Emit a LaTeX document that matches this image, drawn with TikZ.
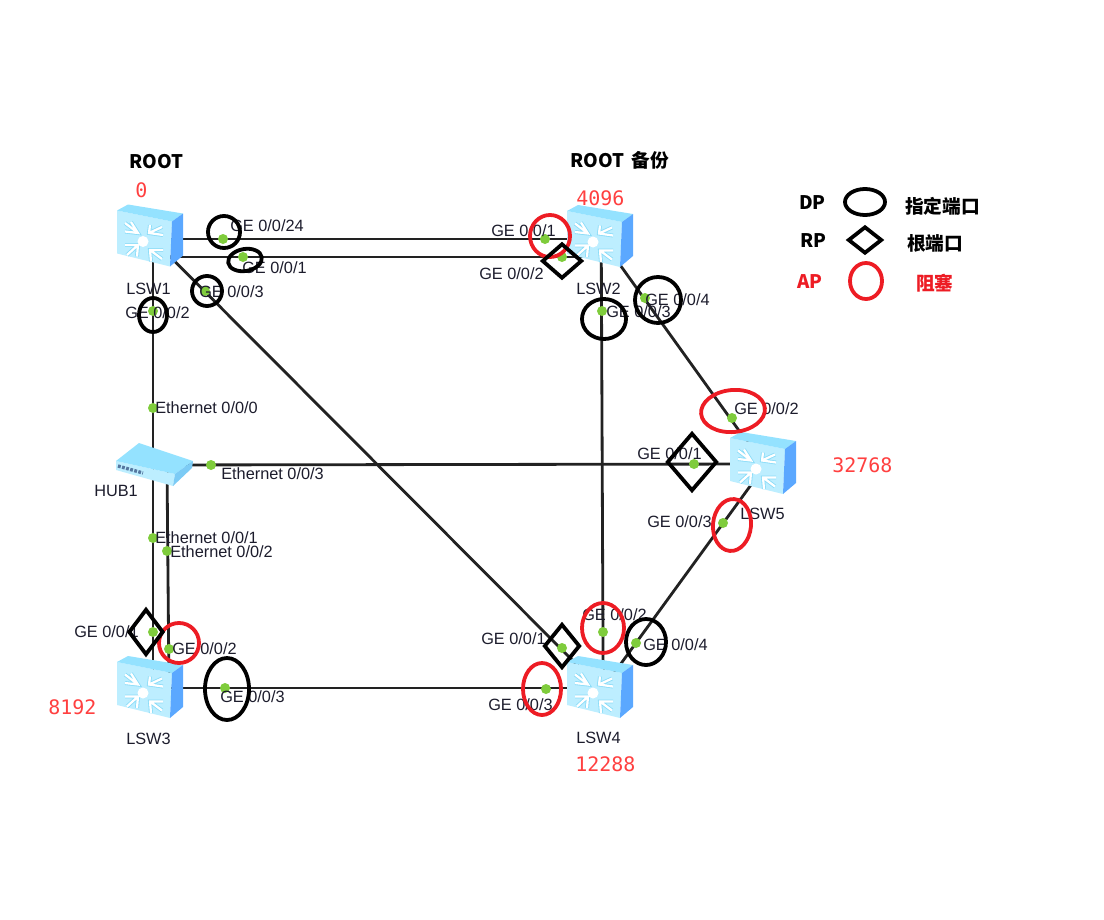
\documentclass[tikz,border=0pt]{standalone}
\usepackage{fontspec}
\setmainfont{Liberation Sans}
\newfontfamily\markfont{Noto Sans CJK SC}
\newfontfamily\bridgefont{DejaVu Sans Mono}
\usetikzlibrary{shapes.geometric,backgrounds}
\definecolor{linkgray}{HTML}{222222}
\definecolor{portgreen}{HTML}{7FCC3C}
\definecolor{labeldark}{HTML}{1C1C2C}
\definecolor{bridgered}{HTML}{FF4040}
\definecolor{markred}{HTML}{ED1C24}
\definecolor{iconfront}{HTML}{BDEEFF}
\definecolor{icontop}{HTML}{94E2FF}
\definecolor{iconside}{HTML}{5BA8FF}
\definecolor{iconshade}{HTML}{8ADCF8}
\definecolor{hubside}{HTML}{7CCBF5}
\definecolor{hubslots}{HTML}{5577A0}
\tikzset{
  switchbox/.style={rectangle, minimum width=1.65cm, minimum height=1.6cm, inner sep=0pt},
  hubbox/.style={rectangle, minimum width=1.9cm, minimum height=1.05cm, inner sep=0pt},
  link/.style={draw=linkgray, line width=2pt},
  port/.style={circle, fill=portgreen, minimum size=0.25cm, inner sep=0pt},
  portlabel/.style={anchor=west, inner sep=0pt, text=labeldark, font=\fontsize{11.6}{14}\selectfont},
  bridgelabel/.style={anchor=west, inner sep=0pt, text=bridgered, font=\bridgefont\fontsize{14.2}{17}\selectfont},
  marklabel/.style={anchor=west, inner sep=0pt, font=\markfont\bfseries\fontsize{13.3}{16}\selectfont},
  dpmark/.style 2 args={draw=black, line width=2.7pt, ellipse, inner sep=0pt, minimum width=#1*0.05cm, minimum height=#2*0.05cm},
  apmark/.style 2 args={draw=markred, line width=2.7pt, ellipse, inner sep=0pt, minimum width=#1*0.05cm, minimum height=#2*0.05cm},
  rpmark/.style 2 args={draw=black, line width=2.7pt, diamond, inner sep=0pt, minimum width=#1*0.05cm, minimum height=#2*0.05cm},
  switchicon/.pic={
    \fill[iconfront] (-33,-26) -- (22,-15) -- (20,30) -- (-33,17) -- cycle;
    \fill[icontop] (-33,-26) -- (-22,-32) -- (33,-23) -- (22,-15) -- cycle;
    \fill[iconside] (22,-15) -- (33,-23) -- (33,19) -- (20,30) -- cycle;
    \draw[iconshade, line width=2.8pt] (-25,-13.5) -- (-12,-3.5) (-19,-14.5) -- (-12,-3.5) -- (-25,-5);
    \draw[iconshade, line width=2.8pt] (12,-9.5) -- (-1,-3.5) (0,-11.5) -- (-1,-3.5) -- (13,-1.5);
    \draw[iconshade, line width=2.8pt] (-23,18.5) -- (-12,8.5) (-25,8.5) -- (-12,8.5) -- (-13,20);
    \draw[iconshade, line width=2.8pt] (12,22.5) -- (0,13.5) (1,25) -- (0,13.5) -- (13,13.5);
    \draw[white, line width=1.6pt] (-25,-13.5) -- (-12,-3.5) (-19,-14.5) -- (-12,-3.5) -- (-25,-5);
    \draw[white, line width=1.6pt] (12,-9.5) -- (-1,-3.5) (0,-11.5) -- (-1,-3.5) -- (13,-1.5);
    \draw[white, line width=1.6pt] (-23,18.5) -- (-12,8.5) (-25,8.5) -- (-12,8.5) -- (-13,20);
    \draw[white, line width=1.6pt] (12,22.5) -- (0,13.5) (1,25) -- (0,13.5) -- (13,13.5);
    \fill[white] (-7,5) circle (5.5);
  },
  hubicon/.pic={
    \fill[iconfront] (-37,-4) -- (22,9) -- (20,21) -- (-37,5) -- cycle;
    \fill[icontop] (-37,-4) -- (-14,-22) -- (40,-4) -- (22,9) -- cycle;
    \fill[hubside] (22,9) -- (40,-4) -- (39,3) -- (20,21) -- cycle;
    \draw[hubslots, line width=2.4pt, dash pattern=on 2pt off 1pt] (-35,1) -- (-10,8);
  },
}
\begin{document}
\begin{tikzpicture}[x=0.025cm,y=-0.025cm]
  \useasboundingbox (0,0) rectangle (1104,920);

  % Switches and hub
  \node[switchbox] (lsw1) at (150,236.5) {};
  \node[switchbox] (lsw2) at (600,237) {};
  \node[switchbox] (lsw3) at (150,688) {};
  \node[switchbox] (lsw4) at (600,688) {};
  \node[switchbox] (lsw5) at (763,464) {};
  \node[hubbox] (hub1) at (153,465) {};
  \pic at (lsw1.center) {switchicon};
  \pic at (lsw2.center) {switchicon};
  \pic at (lsw3.center) {switchicon};
  \pic at (lsw4.center) {switchicon};
  \pic at (lsw5.center) {switchicon};
  \pic at (hub1.center) {hubicon};

  % Port dots
  \node[port] (sw1a) at (223,239) {};
  \node[port] (sw1b) at (243,257) {};
  \node[port] (sw1c) at (205,291) {};
  \node[port] (sw1d) at (153,311) {};
  \node[port] (sw2a) at (545,239) {};
  \node[port] (sw2b) at (562,257) {};
  \node[port] (sw2c) at (602,311) {};
  \node[port] (sw2d) at (645,298) {};
  \node[port] (hubzero) at (153,408) {};
  \node[port] (hubone) at (153,538) {};
  \node[port] (hubtwo) at (167,551) {};
  \node[port] (hubthree) at (211,465) {};
  \node[port] (sw3a) at (153,632) {};
  \node[port] (sw3b) at (169,649) {};
  \node[port] (sw3c) at (225,688) {};
  \node[port] (sw4a) at (562,648) {};
  \node[port] (sw4b) at (603,632) {};
  \node[port] (sw4c) at (546,689) {};
  \node[port] (sw4d) at (636,643) {};
  \node[port] (sw5a) at (694,464) {};
  \node[port] (sw5b) at (732,418) {};
  \node[port] (sw5c) at (723,523) {};

  % Links
  \begin{scope}[on background layer]
    \draw[link] (lsw1.center |- sw1a) -- (lsw2.center |- sw1a);
    \draw[link] (lsw1.center |- sw1b) -- (lsw2.center |- sw1b);
    \draw[link] (lsw1.center) -- (lsw4.center);
    \draw[link] (sw1d |- lsw1.center) -- (hub1.center);
    \draw[link] (hub1.center) -- (lsw5.center);
    \draw[link] (hub1.center) -- (hub1.center |- lsw3.center);
    \draw[link] (hubtwo |- hub1.center) -- (sw3b |- lsw3.center);
    \draw[link] (lsw3.center) -- (lsw4.center);
    \draw[link] ([xshift=0.03cm]lsw2.center) -- ([xshift=0.08cm]lsw4.center);
    \draw[link] (lsw2.center) -- (lsw5.center);
    \draw[link] ([xshift=0.08cm]lsw5.center) -- ([xshift=0.08cm]lsw4.center);
  \end{scope}

  % Device names
  \node[portlabel] (namesw1) at (126,289) {LSW1};
  \node[portlabel] (namesw2) at (576,289) {LSW2};
  \node[portlabel] (namesw3) at (126,739) {LSW3};
  \node[portlabel] (namesw4) at (576,738) {LSW4};
  \node[portlabel] (namesw5) at (740,514) {LSW5};
  \node[portlabel] (namehub) at (94,491) {HUB1};

  % Port labels
  \node[portlabel] (textsw1a) at (230,226) {GE 0/0/24};
  \node[portlabel] (textsw1b) at (242,268) {GE 0/0/1};
  \node[portlabel] (textsw1c) at (199,292) {GE 0/0/3};
  \node[portlabel] (textsw1d) at (125,313) {GE 0/0/2};
  \node[portlabel] (textsw2a) at (491,231) {GE 0/0/1};
  \node[portlabel] (textsw2b) at (479,274) {GE 0/0/2};
  \node[portlabel] (textsw2c) at (606,312) {GE 0/0/3};
  \node[portlabel] (textsw2d) at (645,300) {GE 0/0/4};
  \node[portlabel] (texthubzero) at (155,408) {Ethernet 0/0/0};
  \node[portlabel] (texthubone) at (155,538) {Ethernet 0/0/1};
  \node[portlabel] (texthubtwo) at (170,552) {Ethernet 0/0/2};
  \node[portlabel] (texthubthree) at (221,474) {Ethernet 0/0/3};
  \node[portlabel] (textsw3a) at (74,632) {GE 0/0/1};
  \node[portlabel] (textsw3b) at (172,649) {GE 0/0/2};
  \node[portlabel] (textsw3c) at (220,697) {GE 0/0/3};
  \node[portlabel] (textsw4a) at (481,639) {GE 0/0/1};
  \node[portlabel] (textsw4b) at (582,615) {GE 0/0/2};
  \node[portlabel] (textsw4c) at (488,705) {GE 0/0/3};
  \node[portlabel] (textsw4d) at (643,645) {GE 0/0/4};
  \node[portlabel] (textsw5a) at (637,454) {GE 0/0/1};
  \node[portlabel] (textsw5b) at (734,409) {GE 0/0/2};
  \node[portlabel] (textsw5c) at (647,522) {GE 0/0/3};

  % Bridge priorities and root titles
  \node[bridgelabel] (prisw1) at (135,190) {0};
  \node[bridgelabel] (prisw2) at (576,198) {4096};
  \node[bridgelabel] (prisw3) at (48,707) {8192};
  \node[bridgelabel] (prisw4) at (575,764) {12288};
  \node[bridgelabel] (prisw5) at (832,465) {32768};
  \node[marklabel] (rootmain) at (129,162) {ROOT};
  \node[marklabel] (rootbackup) at (570,160) {ROOT \,备份};

  % Port role marks
  \node[dpmark={16}{16}] (dpone) at (224,232) {};
  \node[dpmark={17}{11}, rotate=10] (dptwo) at (245,260) {};
  \node[dpmark={15}{15}] (dpthree) at (207,291) {};
  \node[dpmark={14}{17}] (dpfour) at (153,315) {};
  \node[dpmark={22}{20}] (dpfive) at (604,319) {};
  \node[dpmark={23}{23}] (dpsix) at (658,300) {};
  \node[dpmark={22}{31}] (dpseven) at (227,689) {};
  \node[dpmark={20}{23}] (dpeight) at (646,642) {};
  \node[apmark={20}{21}] (apone) at (550,236) {};
  \node[apmark={20}{20}] (aptwo) at (179,643) {};
  \node[apmark={32}{21}, rotate=5] (apthree) at (733,411) {};
  \node[apmark={19}{26}, rotate=-5] (apfour) at (732,525) {};
  \node[apmark={21}{25}] (apfive) at (603,628) {};
  \node[apmark={19}{26}] (apsix) at (542,689) {};
  \node[rpmark={20}{17.5}] (rpone) at (562,261) {};
  \node[rpmark={17.5}{23}] (rptwo) at (146,632) {};
  \node[rpmark={25}{29}] (rpthree) at (692,462) {};
  \node[rpmark={18}{22}] (rpfour) at (562,646) {};

  % Legend
  \node[marklabel] (legenddp) at (799,203) {DP};
  \node[dpmark={20}{13}] (legenddpmark) at (865,202) {};
  \node[marklabel] (legenddptext) at (905,206) {指定端口};
  \node[marklabel] (legendrp) at (800,241) {RP};
  \node[rpmark={17}{13.5}] (legendrpmark) at (865,240) {};
  \node[marklabel] (legendrptext) at (907,243) {根端口};
  \node[marklabel, text=markred] (legendap) at (797,282) {AP};
  \node[apmark={16}{18}] (legendapmark) at (866,281) {};
  \node[marklabel, text=markred] (legendaptext) at (916,283) {阻塞};
\end{tikzpicture}
\end{document}
